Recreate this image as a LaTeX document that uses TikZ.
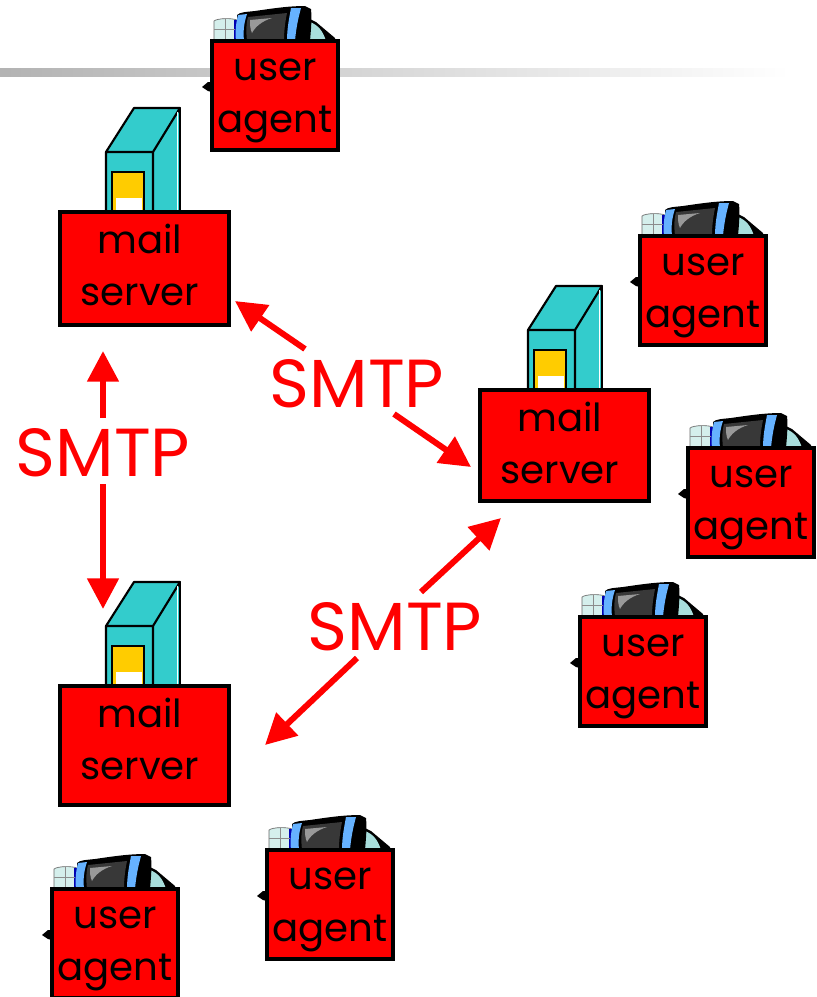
\documentclass[tikz,border=0pt]{standalone}
\usepackage{fontspec}
\setmainfont{Poppins}
\usetikzlibrary{arrows.meta}
\definecolor{towerteal}{HTML}{33CCCC}
\definecolor{dooryellow}{HTML}{FFCC00}
\definecolor{pcblue}{HTML}{66B2FF}
\definecolor{pclight}{HTML}{D5EFEC}
\definecolor{pcback}{HTML}{A8DEDC}
\tikzset{
  redbox/.style={draw=black,fill=red,line width=3pt,inner sep=0pt},
  uabox/.style={redbox,minimum width=94.5pt,minimum height=81.75pt},
  msbox/.style={redbox,minimum width=126.75pt},
  boxtext/.style={inner sep=0pt,align=center,text=black,font=\fontsize{29}{39}\selectfont},
  smtplabel/.style={text=red,inner sep=0pt,font=\fontsize{51}{58}\selectfont},
  smtparrow/.style={draw=red,line width=4.5pt,-{Triangle[length=23pt,width=23pt]}},
  towerline/.style={draw=black,line width=1.6pt,line join=round},
}
\newcommand{\pcicon}[2]{%
  \begin{scope}[shift={(#1,#2)}]
    \fill[black] (-8,48) -- (-2,43) -- (2,43) -- (2,53) -- (-2,52) -- cycle;
    \fill[black] (100,-20) -- (106,-17) -- (125,-1) -- (125,2) -- (96,2) -- cycle;
    \fill[pcback] (100,-17) .. controls (108,-14) and (113,-8) .. (116,2) -- (100,2) -- cycle;
    \filldraw[fill=pclight,draw=black!60,line width=.5pt] (4,2) -- (4,-18) .. controls (8,-21) and (22,-21) .. (27,-19) -- (27,2) -- cycle;
    \fill[blue!70!black] (24,-19) rectangle (28,2);
    \draw[black!45,line width=.6pt] (4,-10) -- (25,-10) (15,-20) -- (15,2);
    \fill[black] (27,-24) .. controls (30,-27) and (36,-27) .. (45,-28)
      .. controls (65,-31) and (80,-33) .. (95,-33) -- (101,-30)
      .. controls (102,-20) and (101,-10) .. (100,2) -- (27,2) -- cycle;
    \fill[pcblue] (28,-24) -- (37,-25) .. controls (34,-16) and (33,-8) .. (34,2) -- (26,2) .. controls (25,-8) and (26,-16) .. (28,-24) -- cycle;
    \fill[pcblue] (81,-31) -- (91,-31) .. controls (88,-20) and (86,-10) .. (85,2) -- (77,2) .. controls (77,-10) and (79,-20) .. (81,-31) -- cycle;
    \fill[black!78] (38,-22) -- (77,-26) .. controls (75,-16) and (74,-8) .. (74,2) -- (37,2) .. controls (36,-8) and (36,-15) .. (38,-22) -- cycle;
    \fill[black!40] (40,-19) -- (62,-21) .. controls (52,-18) and (45,-12) .. (42,-6) .. controls (40,-10) and (40,-15) .. (40,-19) -- cycle;
  \end{scope}}
\newcommand{\useragent}[3]{% name, left, top of the outer box
  \pcicon{#2}{#3}
  \node[uabox] (#1) at (#2+65,#3+56.5) {};
  \node[boxtext] (#1text) at (#2+65,#3+61.5) {user\\agent};}
\newcommand{\towericon}[2]{%
  \begin{scope}[shift={(#1,#2)}]
    \fill[towerteal] (48,-58) -- (76,-102) -- (122,-102) -- (122,2) -- (48,2) -- cycle;
    \draw[towerline] (48,2) -- (48,-58) -- (76,-102) -- (122,-102) -- (95,-58) -- (48,-58)
       (95,-58) -- (95,2);
    \draw[white,line width=.9pt] (119.5,-98) -- (119.5,2);
    \draw[black,line width=.9pt] (122,-102) -- (122,2);
    \filldraw[fill=dooryellow,draw=black,line width=1.6pt] (54,2) rectangle (86,-38);
    \fill[white] (58,2) rectangle (84,-12);
  \end{scope}}
\newcommand{\mailserver}[6]{% name, left, top, height of the outer box, tower shift, text centre y
  \towericon{#2+#5}{#3}
  \node[msbox,minimum height=#4*0.75pt-3pt] (#1) at (#2+86.5,#3+#4/2) {};
  \node[boxtext] (#1text) at (#2+82,#6) {mail\\server};}
\begin{document}
\begin{tikzpicture}[x=0.75pt,y=-0.75pt]
  \useasboundingbox (0,0) rectangle (817,997);
  \clip (0,0) rectangle (817,997);
  \fill[white] (0,0) rectangle (817,997);
  \shade[left color=black!30,right color=white,shading angle=90] (0,68) rectangle (790,76);
  \useragent{uaA}{210}{39}
  \useragent{uaB}{638}{234}
  \useragent{uaC}{686}{446}
  \useragent{uaD}{578}{615}
  \useragent{uaE}{265}{848}
  \useragent{uaF}{50}{887}
  \mailserver{msA}{58}{210}{117}{0}{265}
  \mailserver{msB}{478}{388}{115}{2}{443}
  \mailserver{msC}{58}{684}{123}{0}{739}
  \node[smtplabel] (smtpW) at (103,453) {SMTP};
  \node[smtplabel] (smtpN) at (357,384) {SMTP};
  \node[smtplabel] (smtpS) at (395,627) {SMTP};
  \coordinate (wTop) at (103,418);
  \coordinate (wBot) at (103,484);
  \coordinate (tipMsAw) at (103,351);
  \coordinate (tipMsCw) at (103,609);
  \coordinate (nTop) at (305,349);
  \coordinate (nBot) at (394,414);
  \coordinate (tipMsAe) at (235,301);
  \coordinate (tipMsBw) at (471,467);
  \coordinate (sTop) at (421,592);
  \coordinate (sBot) at (357,658);
  \coordinate (tipMsBs) at (501,518);
  \coordinate (tipMsCe) at (265,745);
  \draw[smtparrow] (wTop) -- (tipMsAw);
  \draw[smtparrow] (wBot) -- (tipMsCw);
  \draw[smtparrow] (nTop) -- (tipMsAe);
  \draw[smtparrow] (nBot) -- (tipMsBw);
  \draw[smtparrow] (sTop) -- (tipMsBs);
  \draw[smtparrow] (sBot) -- (tipMsCe);
\end{tikzpicture}
\end{document}
